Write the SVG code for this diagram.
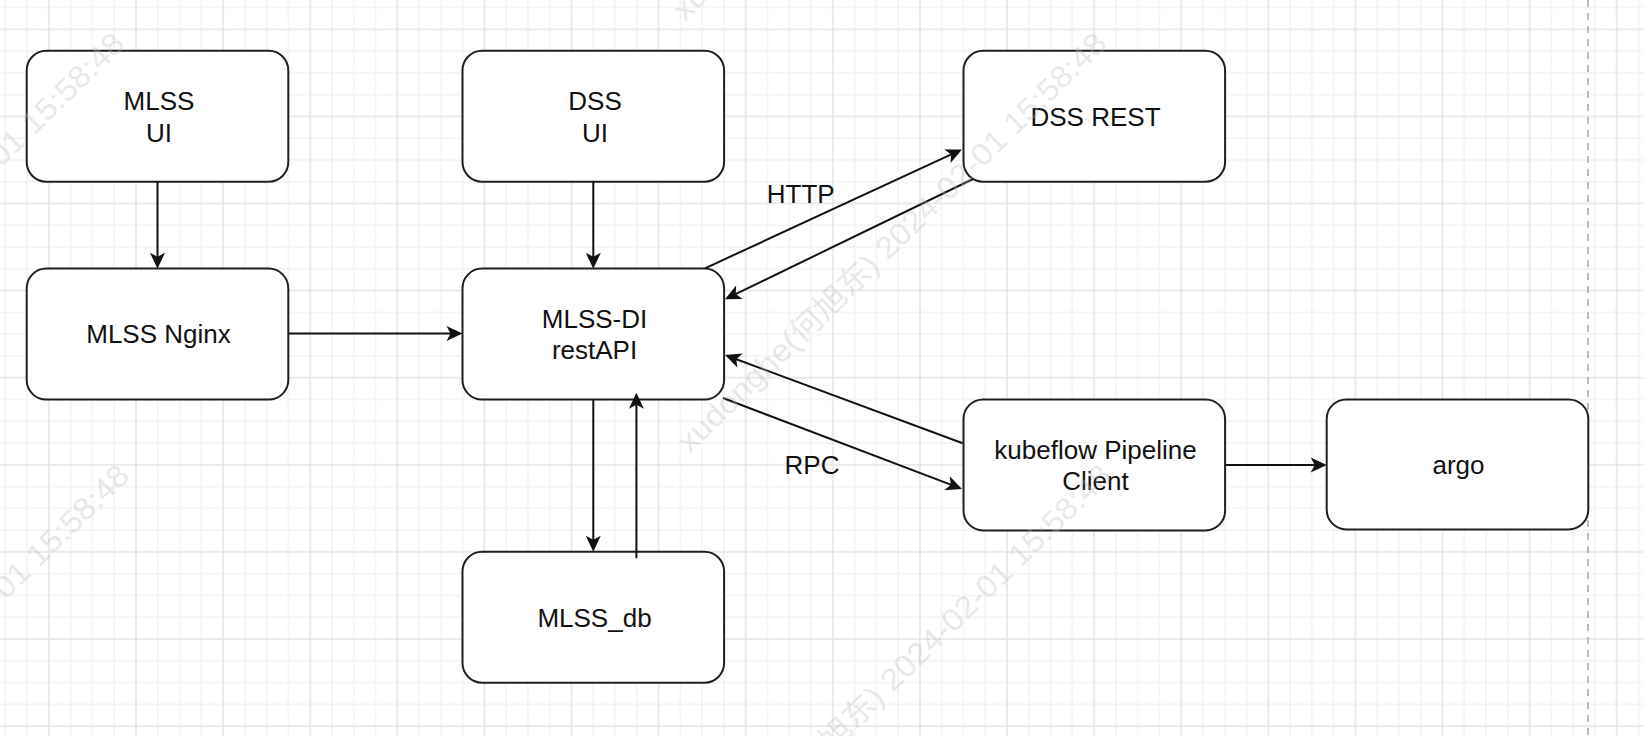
<svg xmlns="http://www.w3.org/2000/svg" width="1644" height="736" viewBox="0 0 1644 736">
  <style>
    .node rect { fill: #ffffff; stroke: #1f1f1f; stroke-width: 2; }
    .node text, .label { font-family: "Liberation Sans", Arial, sans-serif; font-size: 26px; fill: #111111; text-anchor: middle; }
    .edge { fill: none; stroke: #111111; stroke-width: 2; marker-end: url(#arr); }
    .wm { font-family: "Liberation Sans", "Noto Sans CJK SC", sans-serif; font-size: 31px; fill: #bdbdbd; fill-opacity: 0.34; text-anchor: middle; }
  </style>
  <defs>
    <pattern id="grid" patternUnits="userSpaceOnUse" x="5.35" y="-14.25" width="87.1" height="87.1">
      <path d="M0 0V87.1M21.775 0V87.1M65.325 0V87.1M87.1 0V87.1M0 0H87.1M0 21.775H87.1M0 65.325H87.1M0 87.1H87.1" stroke="#f2f2f2" stroke-width="1.5" fill="none"/>
      <path d="M43.55 0V87.1M0 43.55H87.1" stroke="#e4e4e4" stroke-width="1.5" fill="none"/>
    </pattern>
    <marker id="arr" markerUnits="userSpaceOnUse" orient="auto" overflow="visible" markerWidth="1" markerHeight="1" refX="-10" refY="0">
      <path d="M-16,-7.5 L0,0 L-16,7.5 L-12,0 Z" fill="#111111"/>
    </marker>
  </defs>

  <rect x="0" y="0" width="1644" height="736" fill="#ffffff"/>
  <rect x="0" y="0" width="1644" height="736" fill="url(#grid)"/>
  <line x1="1588" y1="0" x2="1588" y2="736" stroke="#a8a8a8" stroke-width="1.5" stroke-dasharray="7 6"/>

  <g id="mlss-ui" class="node">
    <rect x="26.7" y="50.7" width="261.6" height="131" rx="19.6" ry="19.6"/>
    <text x="159" y="110">MLSS</text>
    <text x="159" y="141.7">UI</text>
  </g>
  <g id="dss-ui" class="node">
    <rect x="462.5" y="50.7" width="261.6" height="131" rx="19.6" ry="19.6"/>
    <text x="595" y="110">DSS</text>
    <text x="595" y="141.7">UI</text>
  </g>
  <g id="dss-rest" class="node">
    <rect x="963.5" y="50.7" width="261.6" height="131" rx="19.6" ry="19.6"/>
    <text x="1095.5" y="125.8">DSS REST</text>
  </g>
  <g id="mlss-nginx" class="node">
    <rect x="26.7" y="268.6" width="261.6" height="131" rx="19.6" ry="19.6"/>
    <text x="158.5" y="343.3">MLSS Nginx</text>
  </g>
  <g id="mlss-di-restapi" class="node">
    <rect x="462.5" y="268.6" width="261.6" height="131" rx="19.6" ry="19.6"/>
    <text x="594.5" y="327.6">MLSS-DI</text>
    <text x="594.5" y="359.3">restAPI</text>
  </g>
  <g id="mlss-db" class="node">
    <rect x="462.5" y="551.7" width="261.6" height="131" rx="19.6" ry="19.6"/>
    <text x="594.5" y="626.5">MLSS_db</text>
  </g>
  <g id="kubeflow-pipeline-client" class="node">
    <rect x="963.5" y="399.4" width="261.6" height="131" rx="19.6" ry="19.6"/>
    <text x="1095.5" y="459.2">kubeflow Pipeline</text>
    <text x="1095.5" y="490">Client</text>
  </g>
  <g id="argo" class="node">
    <rect x="1326.7" y="399.4" width="261.6" height="130" rx="19.6" ry="19.6"/>
    <text x="1458.5" y="474.3">argo</text>
  </g>

  <g id="connectors">
    <path class="edge" d="M157.5 181.7V258.8"/>
    <path class="edge" d="M593.3 181.7V258.8"/>
    <path class="edge" d="M288.3 333.5H452.5"/>
    <path class="edge" d="M593.3 399.6V541.7"/>
    <path class="edge" d="M636.4 558.3V402.7"/>
    <path class="edge" d="M705 268.3L952.9 153.7"/>
    <path class="edge" d="M973 179L734 294.9"/>
    <path class="edge" d="M962.7 443.3L734.4 358.5"/>
    <path class="edge" d="M723 398L952.65 485.4"/>
    <path class="edge" d="M1224.9 465H1316.7"/>
    <text class="label" x="800.7" y="203.3">HTTP</text>
    <text class="label" x="812" y="474.3">RPC</text>
  </g>

  <g id="watermarks">
    <text class="wm" x="899" y="250" transform="rotate(-44.3 899 250)" textLength="585" lengthAdjust="spacingAndGlyphs">xudonghe(何旭东) 2024-02-01 15:58:48</text>
    <text class="wm" x="-83" y="250" transform="rotate(-44.3 -83 250)" textLength="585" lengthAdjust="spacingAndGlyphs">xudonghe(何旭东) 2024-02-01 15:58:48</text>
    <text class="wm" x="904" y="682" transform="rotate(-44.3 904 682)" textLength="585" lengthAdjust="spacingAndGlyphs">xudonghe(何旭东) 2024-02-01 15:58:48</text>
    <text class="wm" x="-78" y="682" transform="rotate(-44.3 -78 682)" textLength="585" lengthAdjust="spacingAndGlyphs">xudonghe(何旭东) 2024-02-01 15:58:48</text>
    <text class="wm" x="894" y="-182" transform="rotate(-44.3 894 -182)" textLength="585" lengthAdjust="spacingAndGlyphs">xudonghe(何旭东) 2024-02-01 15:58:48</text>
  </g>
</svg>
